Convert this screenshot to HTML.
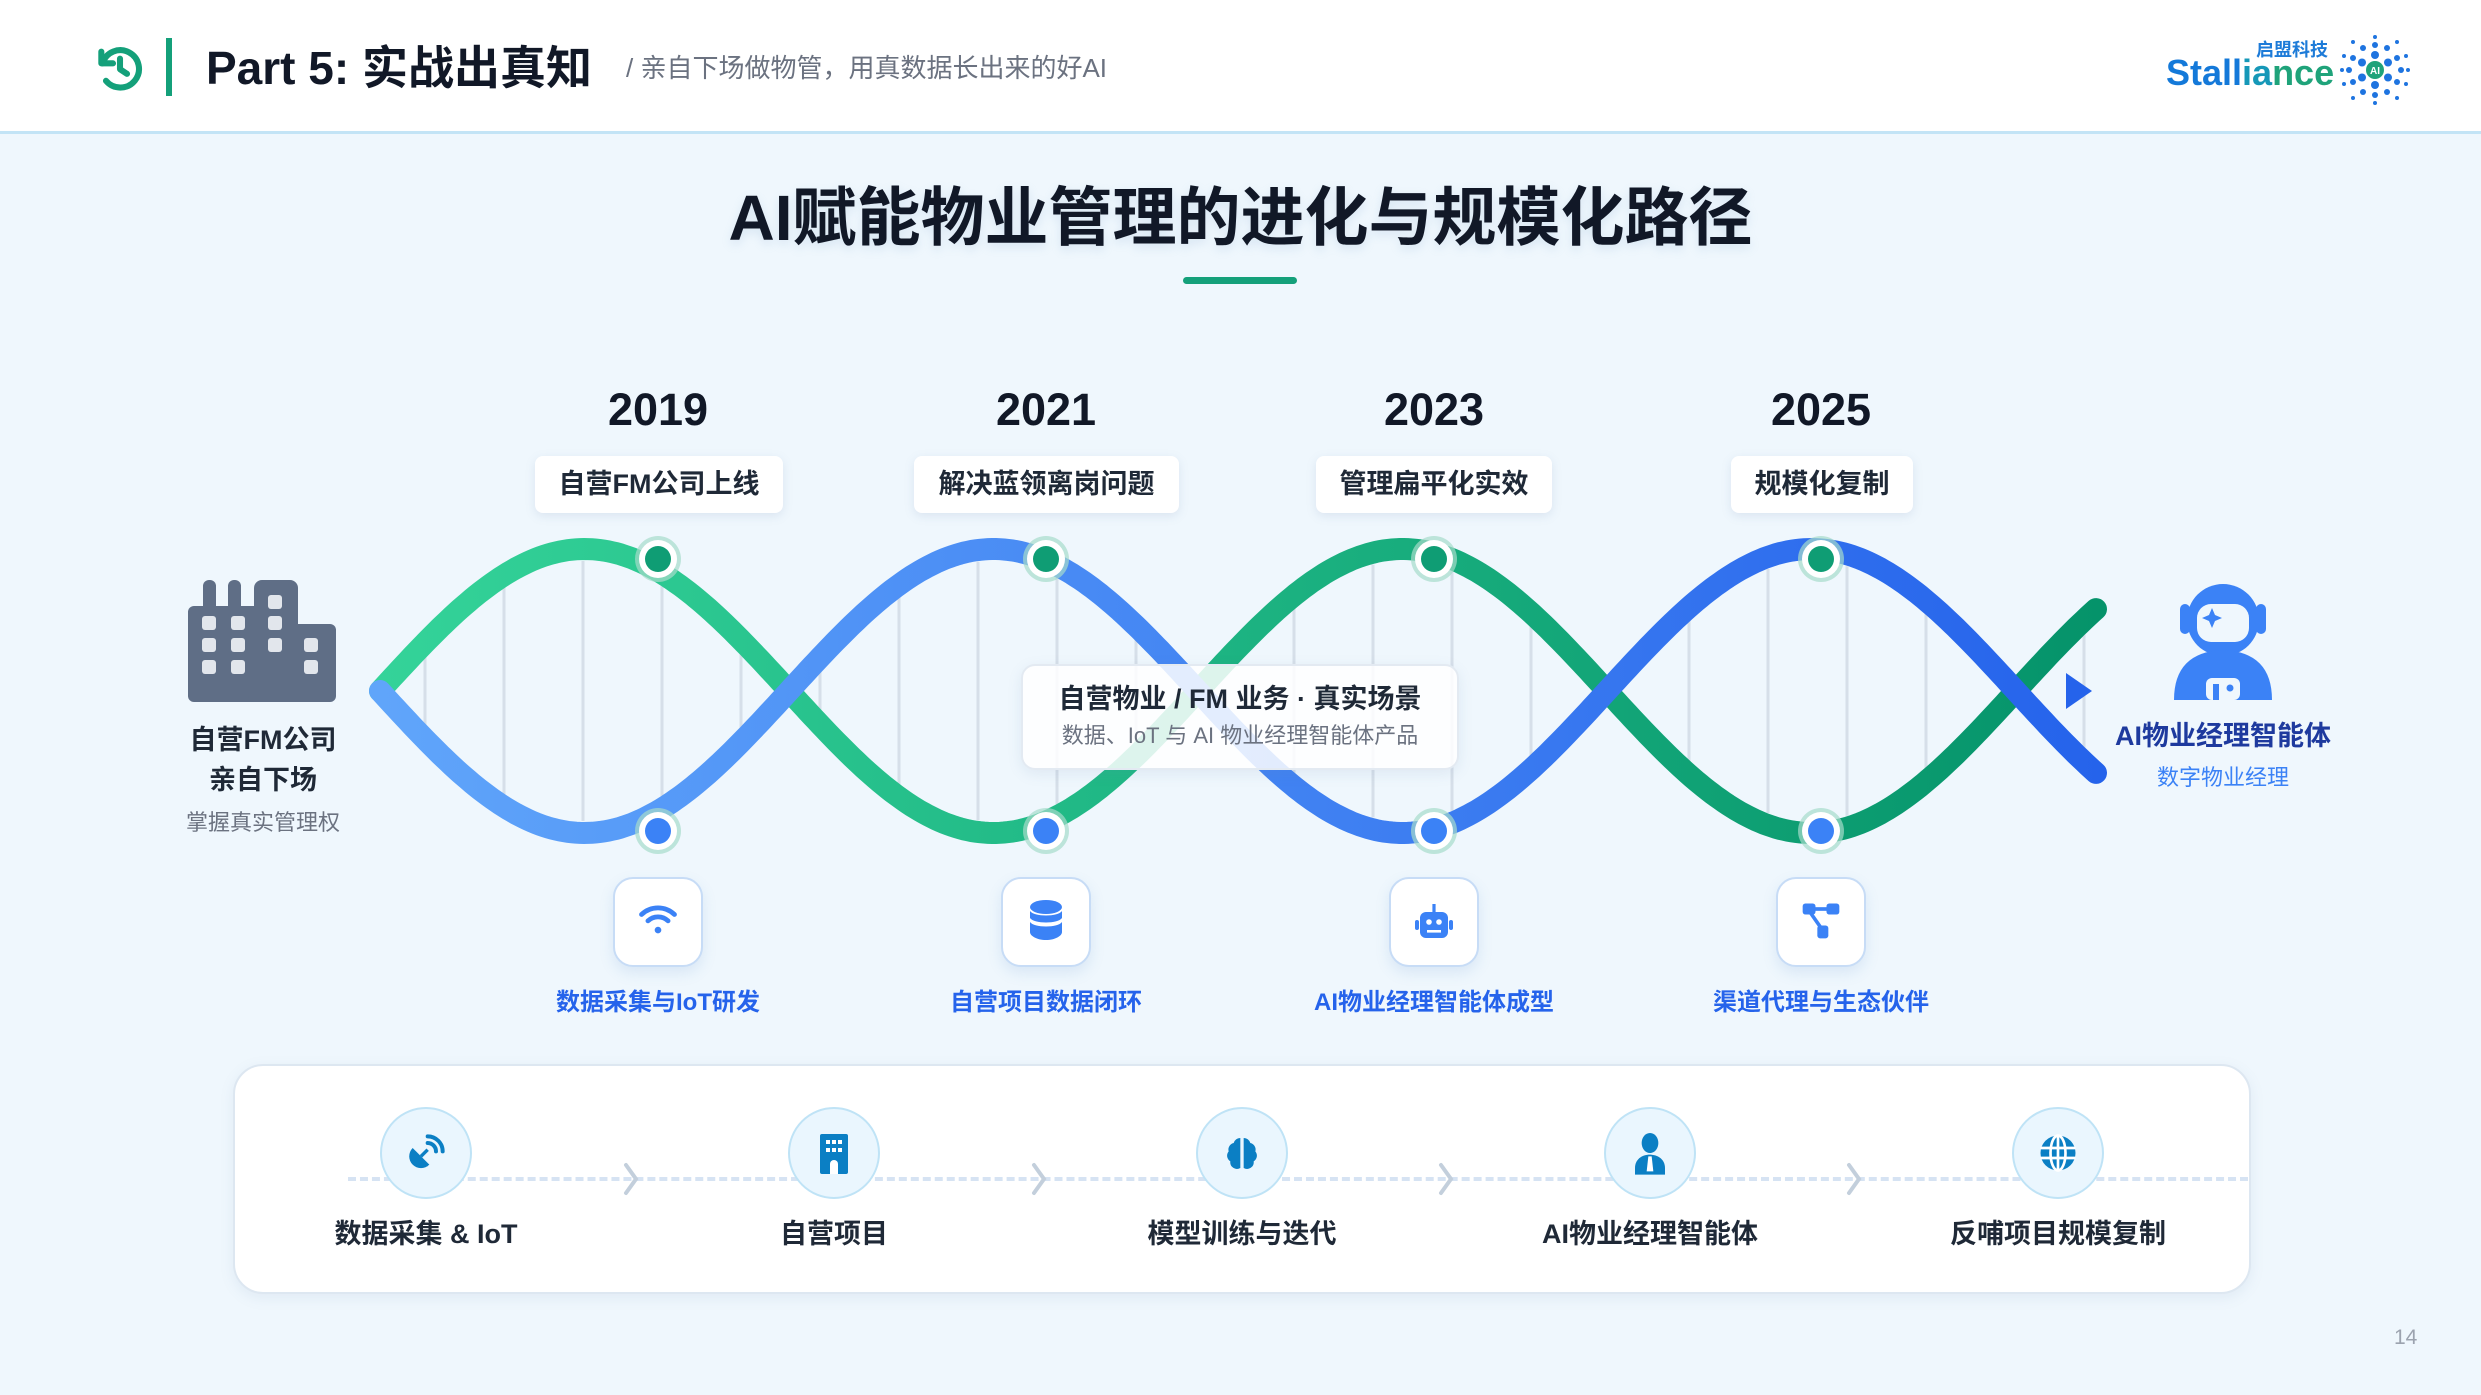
<!DOCTYPE html>
<html><head><meta charset="utf-8">
<style>
*{margin:0;padding:0;box-sizing:border-box}
body{width:2481px;height:1395px;overflow:hidden;background:#eff7fd;font-family:"Liberation Sans","Noto Sans CJK SC",sans-serif;position:relative}
.abs{position:absolute}
.hdr{left:0;top:0;width:2481px;height:134px;background:#fff;border-bottom:3px solid #c3e4f6}
.c{text-align:center;white-space:nowrap}
.lbl{height:57px;background:#fff;border-radius:8px;box-shadow:0 3px 10px rgba(100,130,170,.15);font-size:27px;font-weight:bold;color:#1f2937;line-height:57px;text-align:center}
.yr{font-size:45px;font-weight:bold;color:#111827;width:300px;text-align:center;line-height:50px}
.ib{width:90px;height:90px;background:#fff;border:2px solid #c7dcf6;border-radius:20px;box-shadow:0 6px 14px rgba(90,140,200,.15)}
.bl{font-size:24px;font-weight:bold;color:#2563eb;width:400px;text-align:center}
.cc{width:92px;height:92px;border-radius:50%;background:#eaf6fe;border:2px solid #bfe3f6}
.pl{font-size:27px;font-weight:bold;color:#1f2937;width:360px;text-align:center}
</style></head><body>
<div class="abs hdr"></div>
<svg class="abs" style="left:92px;top:40px" width="56" height="56" viewBox="0 0 24 24" fill="none" stroke="#14a07a" stroke-width="2.6" stroke-linecap="round" stroke-linejoin="round"><path d="M4 5v5h5"/><path d="M4.5 10A8 8 0 1 1 6 17.5"/><path d="M12 8v4.5l3 2"/></svg>
<div class="abs" style="left:166px;top:38px;width:6px;height:58px;background:#14a07a"></div>
<div class="abs" style="left:206px;top:40px;font-size:46px;font-weight:bold;color:#111827;line-height:56px;white-space:nowrap">Part 5: 实战出真知</div>
<div class="abs" style="left:626px;top:53px;font-size:26px;color:#6b7280;line-height:30px;white-space:nowrap">/ 亲自下场做物管，用真数据长出来的好AI</div>
<div class="abs" style="left:2256px;top:40px;font-size:18px;font-weight:bold;color:#1d7bd8;line-height:20px">启盟科技</div>
<div class="abs" style="left:2166px;top:52px;font-size:36px;font-weight:bold;line-height:42px;color:#1479d9"><span>Stall</span><span style="color:#1698b8">ia</span><span style="color:#1fa37a">nce</span></div>
<svg class="abs" style="left:2338px;top:33px" width="74" height="74" viewBox="-37 -37 74 74">
<g fill="#1e74e0">
<circle r="4" cx="0" cy="-15"/><circle r="4" cx="13" cy="-7.5"/><circle r="4" cx="13" cy="7.5"/><circle r="4" cx="0" cy="15"/><circle r="4" cx="-13" cy="7.5"/><circle r="4" cx="-13" cy="-7.5"/>
<circle r="3" cx="0" cy="-25"/><circle r="3" cx="22" cy="-12"/><circle r="3" cx="22" cy="12"/><circle r="3" cx="0" cy="25"/><circle r="3" cx="-22" cy="12"/><circle r="3" cx="-22" cy="-12"/>
<circle r="3" cx="-12" cy="-22"/><circle r="3" cx="12" cy="-22"/><circle r="3" cx="26" cy="0"/><circle r="3" cx="-26" cy="0"/><circle r="3" cx="-12" cy="22"/><circle r="3" cx="12" cy="22"/>
<circle r="2" cx="0" cy="-33"/><circle r="2" cx="33" cy="0"/><circle r="2" cx="0" cy="33"/><circle r="2" cx="-33" cy="0"/><circle r="2" cx="-22" cy="-28"/><circle r="2" cx="22" cy="-28"/><circle r="2" cx="-22" cy="28"/><circle r="2" cx="22" cy="28"/><circle r="2" cx="-31" cy="-14"/><circle r="2" cx="31" cy="14"/><circle r="2" cx="31" cy="-14"/><circle r="2" cx="-31" cy="14"/>
</g><circle r="9" fill="#1fa37a"/><text x="0" y="4" font-size="10" fill="#fff" text-anchor="middle" font-weight="bold">AI</text></svg>

<div class="abs c" style="left:0;top:178px;width:2481px;font-size:64px;font-weight:bold;color:#111827;line-height:80px;text-shadow:0 4px 10px rgba(120,160,200,.2)">AI赋能物业管理的进化与规模化路径</div>
<div class="abs" style="left:1183px;top:277px;width:114px;height:7px;border-radius:4px;background:#14a07a"></div>

<div class="abs yr" style="left:508px;top:385px">2019</div>
<div class="abs yr" style="left:896px;top:385px">2021</div>
<div class="abs yr" style="left:1284px;top:385px">2023</div>
<div class="abs yr" style="left:1671px;top:385px">2025</div>
<div class="abs lbl" style="left:535px;top:456px;width:248px">自营FM公司上线</div>
<div class="abs lbl" style="left:914px;top:456px;width:265px">解决蓝领离岗问题</div>
<div class="abs lbl" style="left:1316px;top:456px;width:236px">管理扁平化实效</div>
<div class="abs lbl" style="left:1731px;top:456px;width:182px">规模化复制</div>

<svg id="hx" class="abs" style="left:0;top:0" width="2481" height="1395">
<defs>
<linearGradient id="gg" gradientUnits="userSpaceOnUse" x1="380" y1="0" x2="2100" y2="0"><stop offset="0" stop-color="#34d399"/><stop offset="1" stop-color="#05936a"/></linearGradient>
<linearGradient id="bg" gradientUnits="userSpaceOnUse" x1="380" y1="0" x2="2100" y2="0"><stop offset="0" stop-color="#60a5fa"/><stop offset="1" stop-color="#2563eb"/></linearGradient>
</defs>
<g id="rungs" stroke="#d6dfe9" stroke-width="3"></g>
<path id="gp" fill="none" stroke="url(#gg)" stroke-width="22" stroke-linecap="round"/>
<path id="bp" fill="none" stroke="url(#bg)" stroke-width="22" stroke-linecap="round"/>
<g id="dots"></g>
<polygon points="2066,673 2066,709 2092,691" fill="#2563eb"/>
</svg>
<script>
(function(){
var x0=380,L=409,A=142,C=691,x1=2098,g="",b="",r="";
for(var x=x0;x<=x1;x+=4){var s=Math.sin(Math.PI*(x-x0)/L);g+=(x==x0?"M":"L")+x+","+(C-A*s).toFixed(1);b+=(x==x0?"M":"L")+x+","+(C+A*s).toFixed(1);}
document.getElementById("gp").setAttribute("d",g);
document.getElementById("bp").setAttribute("d",b);
for(var x=425;x<x1;x+=79){var s=Math.sin(Math.PI*(x-x0)/L);var a=C-A*s,bb=C+A*s;var t=Math.min(a,bb)+12,u=Math.max(a,bb)-12;if(u-t>30)r+='<line x1="'+x+'" y1="'+t+'" x2="'+x+'" y2="'+u+'"/>';}
document.getElementById("rungs").innerHTML=r;
var d="",xs=[658,1046,1434,1821];
xs.forEach(function(x){d+='<circle cx="'+x+'" cy="559" r="23" fill="#a7dccb" opacity=".7"/><circle cx="'+x+'" cy="559" r="19" fill="#fff"/><circle cx="'+x+'" cy="559" r="13" fill="#0f9d74"/>';
d+='<circle cx="'+x+'" cy="831" r="23" fill="#a7dccb" opacity=".7"/><circle cx="'+x+'" cy="831" r="19" fill="#fff"/><circle cx="'+x+'" cy="831" r="13" fill="#3b82f6"/>';});
document.getElementById("dots").innerHTML=d;
})();
</script>

<div class="abs" style="left:1021px;top:664px;width:438px;height:106px;background:rgba(255,255,255,.85);border:2px solid #e3eaf2;border-radius:14px;box-shadow:0 4px 14px rgba(100,130,170,.12)"></div>
<div class="abs c" style="left:1021px;top:682px;width:438px;font-size:27px;font-weight:bold;color:#1f2937;line-height:34px">自营物业 / FM 业务 · 真实场景</div>
<div class="abs c" style="left:1021px;top:722px;width:438px;font-size:22px;color:#6b7280;line-height:28px">数据、IoT 与 AI 物业经理智能体产品</div>

<svg class="abs" style="left:188px;top:580px" width="148" height="122" viewBox="0 0 148 122">
<g fill="#5f6e86"><rect x="0" y="26" width="100" height="96" rx="6"/><rect x="15" y="0" width="13" height="40" rx="6"/><rect x="40" y="0" width="13" height="40" rx="6"/><rect x="66" y="0" width="44" height="60" rx="8"/><rect x="60" y="44" width="88" height="78" rx="6"/></g>
<g fill="#e2e6ec"><rect x="14" y="36" width="14" height="14" rx="3"/><rect x="43" y="36" width="14" height="14" rx="3"/><rect x="80" y="15" width="14" height="14" rx="3"/><rect x="80" y="36" width="14" height="14" rx="3"/><rect x="14" y="58" width="14" height="14" rx="3"/><rect x="43" y="58" width="14" height="14" rx="3"/><rect x="80" y="58" width="14" height="14" rx="3"/><rect x="116" y="58" width="14" height="14" rx="3"/><rect x="14" y="80" width="14" height="14" rx="3"/><rect x="43" y="80" width="14" height="14" rx="3"/><rect x="116" y="80" width="14" height="14" rx="3"/></g></svg>
<div class="abs c" style="left:113px;top:720px;width:300px;font-size:27px;font-weight:bold;color:#1f2937;line-height:40px">自营FM公司<br>亲自下场</div>
<div class="abs c" style="left:113px;top:809px;width:300px;font-size:22px;color:#6b7280;line-height:28px">掌握真实管理权</div>

<svg class="abs" style="left:2170px;top:582px" width="106" height="118" viewBox="0 0 106 118">
<g fill="#3b82f6"><circle cx="53" cy="38" r="36"/><rect x="10" y="22" width="10" height="30" rx="5"/><rect x="86" y="22" width="10" height="30" rx="5"/><path d="M4 118 Q4 70 53 68 Q102 70 102 118Z"/></g>
<rect x="27" y="22" width="52" height="38" rx="14" fill="#eff7fd"/>
<path d="M42 26 l3 7 7 3 -7 3 -3 7 -3 -7 -7 -3 7 -3z" fill="#3b82f6"/>
<rect x="36" y="96" width="34" height="22" rx="6" fill="#eff7fd"/><rect x="43" y="102" width="6" height="16" fill="#3b82f6"/><circle cx="60" cy="106" r="3.5" fill="#3b82f6"/></svg>
<div class="abs c" style="left:2073px;top:718px;width:300px;font-size:27px;font-weight:bold;color:#1e3a9e;line-height:36px">AI物业经理智能体</div>
<div class="abs c" style="left:2073px;top:764px;width:300px;font-size:22px;color:#3b82f6;line-height:28px">数字物业经理</div>

<div class="abs ib" style="left:613px;top:877px"></div>
<svg class="abs" style="left:636px;top:898px" width="44" height="44" viewBox="0 0 24 24" fill="none" stroke="#3b82f6" stroke-width="2.6" stroke-linecap="round"><path d="M3 9a13 13 0 0 1 18 0"/><path d="M6.5 12.5a8 8 0 0 1 11 0"/><circle cx="12" cy="17.5" r="1.8" fill="#3b82f6" stroke="none"/></svg>
<div class="abs ib" style="left:1001px;top:877px"></div>
<svg class="abs" style="left:1028px;top:900px" width="36" height="42" viewBox="0 0 18 21" fill="#3b82f6"><ellipse cx="9" cy="3.5" rx="8" ry="3.5"/><path d="M1 5.5c2 3 14 3 16 0V9c-2 3-14 3-16 0z"/><path d="M1 11c2 3 14 3 16 0v5c0 2-3.5 4-8 4s-8-2-8-4z"/></svg>
<div class="abs ib" style="left:1389px;top:877px"></div>
<svg class="abs" style="left:1410px;top:898px" width="48" height="48" viewBox="0 0 24 24" fill="#3b82f6"><rect x="5" y="7" width="14" height="13" rx="3"/><rect x="11.2" y="3" width="1.6" height="4"/><rect x="2.5" y="11" width="2" height="5" rx="1"/><rect x="19.5" y="11" width="2" height="5" rx="1"/><circle cx="9.5" cy="12" r="1.4" fill="#fff"/><circle cx="14.5" cy="12" r="1.4" fill="#fff"/><rect x="8.5" y="16" width="7" height="1.3" fill="#fff"/></svg>
<div class="abs ib" style="left:1776px;top:877px"></div>
<svg class="abs" style="left:1799px;top:898px" width="44" height="44" viewBox="0 0 24 24" fill="#3b82f6"><rect x="2" y="3" width="7" height="6" rx="1.5"/><rect x="15" y="3" width="7" height="6" rx="1.5"/><rect x="10" y="15" width="6" height="7" rx="1.5"/><rect x="8" y="5" width="8" height="2"/><path d="M5 8l1.7-1 7 10-1.7 1z"/></svg>
<div class="abs bl" style="left:458px;top:982px">数据采集与IoT研发</div>
<div class="abs bl" style="left:846px;top:982px">自营项目数据闭环</div>
<div class="abs bl" style="left:1234px;top:982px">AI物业经理智能体成型</div>
<div class="abs bl" style="left:1621px;top:982px">渠道代理与生态伙伴</div>

<div class="abs" style="left:233px;top:1064px;width:2018px;height:230px;background:#fff;border:2px solid #dde7f1;border-radius:30px;box-shadow:0 4px 14px rgba(100,130,170,.1)"></div>
<div class="abs" style="left:348px;top:1177px;width:1900px;height:0;border-top:4px dashed #d6e3f3"></div>
<svg class="abs" style="left:0;top:0" width="2481" height="1395" fill="none" stroke="#c3cfdc" stroke-width="4" stroke-linecap="round"><path d="M626 1165l10 14-10 14M1034 1165l10 14-10 14M1441 1165l10 14-10 14M1849 1165l10 14-10 14"/></svg>
<div class="abs cc" style="left:380px;top:1107px"></div>
<div class="abs cc" style="left:788px;top:1107px"></div>
<div class="abs cc" style="left:1196px;top:1107px"></div>
<div class="abs cc" style="left:1604px;top:1107px"></div>
<div class="abs cc" style="left:2012px;top:1107px"></div>
<svg class="abs" style="left:406px;top:1133px" width="40" height="40" viewBox="0 0 24 24" fill="#0b7fc4" stroke="#0b7fc4"><path d="M4 9 L14 19 A7 7 0 0 1 4 9Z" stroke="none"/><path d="M9 14l4-4" stroke-width="2" fill="none"/><path d="M13 6a5 5 0 0 1 5 5M13 2a9 9 0 0 1 9 9" stroke-width="2.4" fill="none" stroke-linecap="round"/><path d="M7 20h6l-3-3z" stroke="none"/></svg>
<svg class="abs" style="left:818px;top:1132px" width="32" height="42" viewBox="0 0 16 21" fill="#0b7fc4"><rect x="1" y="1" width="14" height="20" rx="1"/><g fill="#fff"><rect x="4" y="4" width="2" height="2"/><rect x="7" y="4" width="2" height="2"/><rect x="10" y="4" width="2" height="2"/><rect x="4" y="8" width="2" height="2"/><rect x="7" y="8" width="2" height="2"/><rect x="10" y="8" width="2" height="2"/><path d="M6 21v-5a2 2 0 0 1 4 0v5z"/></g></svg>
<svg class="abs" style="left:1222px;top:1133px" width="40" height="40" viewBox="0 0 24 24" fill="#0b7fc4"><path d="M11 3a4 4 0 0 0-4 3 4 4 0 0 0-3 5 4 4 0 0 0 1 6 4 4 0 0 0 6 4z"/><path d="M13 3a4 4 0 0 1 4 3 4 4 0 0 1 3 5 4 4 0 0 1-1 6 4 4 0 0 1-6 4z"/></svg>
<svg class="abs" style="left:1630px;top:1131px" width="40" height="44" viewBox="0 0 24 26" fill="#0b7fc4"><ellipse cx="12" cy="7" rx="5" ry="6"/><path d="M3 26v-4c0-5 4-8 9-8s9 3 9 8v4z"/><path d="M11 15h2l1 9h-4z" fill="#fff"/></svg>
<svg class="abs" style="left:2038px;top:1133px" width="40" height="40" viewBox="0 0 24 24"><circle cx="12" cy="12" r="10.5" fill="#0b7fc4"/><g stroke="#fff" stroke-width="1.6" fill="none"><path d="M1.5 9h21M1.5 15h21"/><ellipse cx="12" cy="12" rx="4.5" ry="10.5"/><path d="M12 1.5v21"/></g></svg>
<div class="abs pl" style="left:246px;top:1212px">数据采集 &amp; IoT</div>
<div class="abs pl" style="left:654px;top:1212px">自营项目</div>
<div class="abs pl" style="left:1062px;top:1212px">模型训练与迭代</div>
<div class="abs pl" style="left:1470px;top:1212px">AI物业经理智能体</div>
<div class="abs pl" style="left:1878px;top:1212px">反哺项目规模复制</div>
<div class="abs" style="left:2394px;top:1326px;font-size:21px;color:#9ca3af">14</div>
</body></html>
